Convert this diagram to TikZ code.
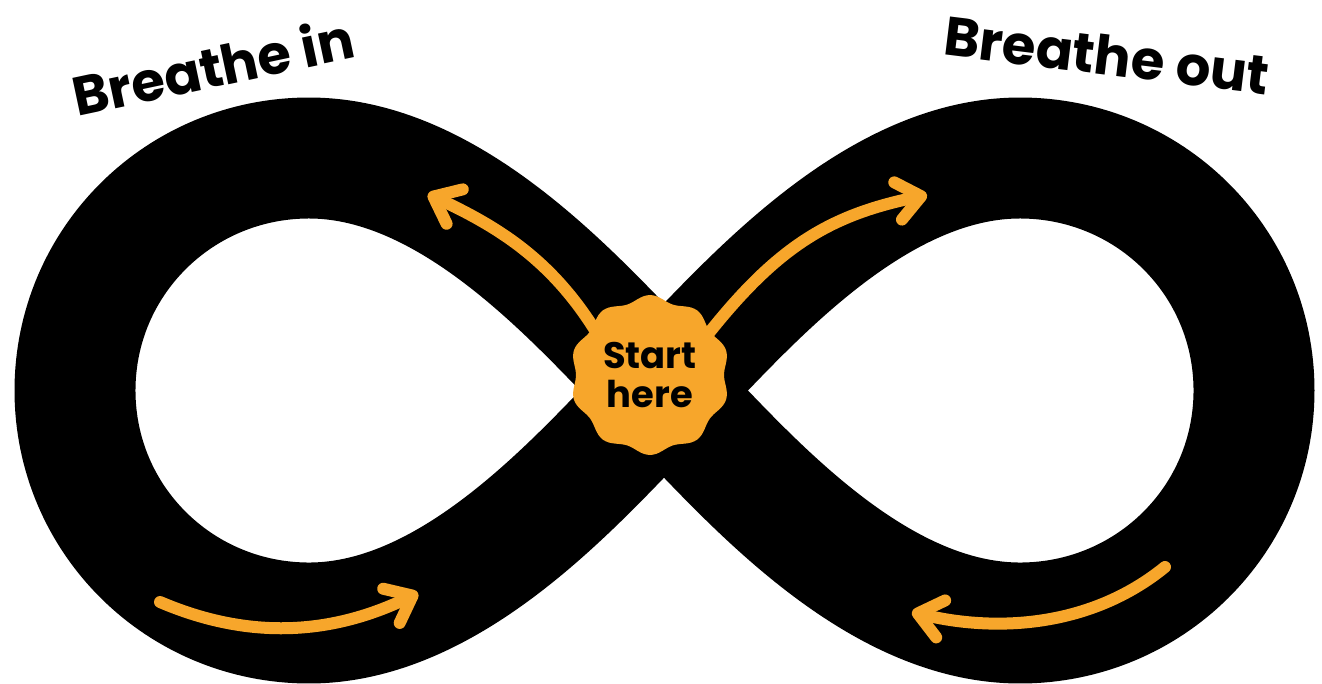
\documentclass[tikz,border=0pt]{standalone}
\usepackage{fontspec}
\setmainfont{Poppins}
\usetikzlibrary{positioning,arrows.meta}
\definecolor{breathorange}{RGB}{247,166,43}
\pgfdeclarelayer{background}
\pgfsetlayers{background,main}

\tikzset{
  loopband/.style={draw=black, line width=2.42cm},
  breatharrow/.style={draw=breathorange, line width=0.24cm, line cap=round,
    -{Straight Barb[length=4.7mm, width=7.6mm, round]}},
  badge/.style={circle, minimum size=2.8cm, inner sep=0pt, align=center,
    font=\bfseries\fontsize{21}{22.7}\selectfont},
  cue/.style={font=\bfseries\fontsize{31}{36}\selectfont}
}

\begin{document}
\begin{tikzpicture}[x=0.02cm, y=-0.02cm]
\useasboundingbox (0,0) rectangle (1322,683);
\node (start) [badge] at (650,375) {Start\\here};
\node (inlabel) [cue, rotate=12] at (213,66) {Breathe in};
\node (outlabel) [cue, rotate=-7] at (1107,55) {Breathe out};
\coordinate (inend) at (428,194);
\coordinate (outend) at (927,195);
\coordinate (lowin) at (160,602);
\coordinate (lowinend) at (418,593);
\coordinate (lowout) at (1165,567);
\coordinate (lowoutend) at (912,612);
\begin{pgfonlayer}{background}
% the loop
\draw[loopband] (664,390.5)
  .. controls (590,316) and (460,158) .. (309,158)
  .. controls (180,158) and (75,261) .. (75,390.5)
  .. controls (75,520) and (180,623) .. (309,623)
  .. controls (460,623) and (590,465) .. (664,390.5)
  .. controls (738,316) and (868,158) .. (1020,158)
  .. controls (1149,158) and (1254,261) .. (1254,390.5)
  .. controls (1254,520) and (1149,623) .. (1020,623)
  .. controls (868,623) and (738,465) .. cycle;
% arrows
\draw[breatharrow] (start.141) .. controls (550,258) and (496,226) .. (inend);
\draw[breatharrow] (start.35) .. controls (778,246) and (830,215) .. (outend);
\draw[breatharrow] (lowin) .. controls (249,640) and (331,635) .. (lowinend);
\draw[breatharrow] (lowout) .. controls (1090,628) and (995,632) .. (lowoutend);
% badge
\fill[breathorange, shift={(start.center)}]
  plot[smooth cycle, domain=0:355.5, samples=80, variable=\t]
  ({(77+3*cos(10*(\t-90)))*cos(\t)}, {(77+3*cos(10*(\t-90)))*sin(\t)});
\end{pgfonlayer}
\end{tikzpicture}
\end{document}
